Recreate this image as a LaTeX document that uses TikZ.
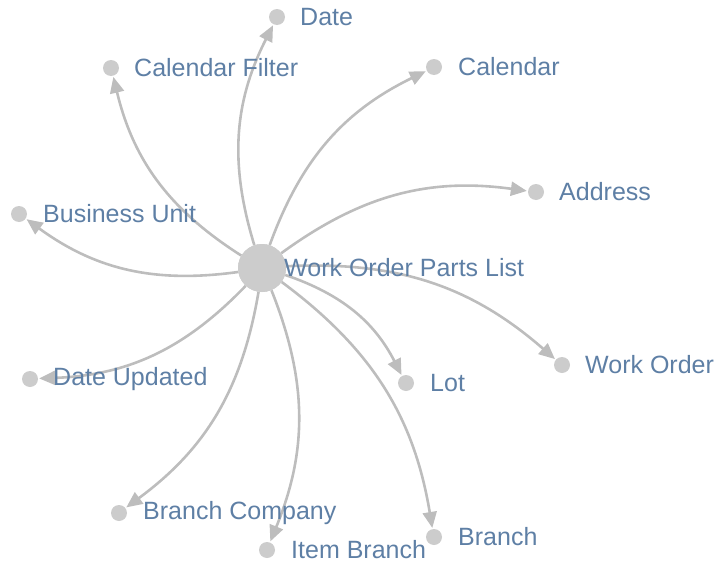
\documentclass[tikz,border=0pt]{standalone}
\usepackage{fontspec}
\setmainfont{Liberation Sans}
\usetikzlibrary{arrows.meta}
\definecolor{dotgray}{HTML}{CCCCCC}
\definecolor{edgegray}{HTML}{BDBDBD}
\definecolor{labelblue}{HTML}{5E7FA5}
\tikzset{
  dot/.style={circle,fill=dotgray,draw=none,minimum size=16pt,inner sep=0pt},
  hub/.style={circle,fill=dotgray,draw=none,minimum size=48pt,inner sep=0pt},
  lbl/.style={anchor=west,inner sep=0pt,text=labelblue,font=\fontsize{25}{28}\selectfont},
  edge/.style={draw=edgegray,line width=2.6pt,-{Triangle[length=16pt,width=14pt]},shorten >=1pt}
}
\begin{document}
\begin{tikzpicture}[x=1pt,y=-1pt]
\useasboundingbox (0,0) rectangle (724,565);
\node[hub] (c) at (262,268) {};
\node[dot] (date) at (277,17) {};
\node[dot] (calf) at (111,68) {};
\node[dot] (cal) at (434,67) {};
\node[dot] (addr) at (536,192) {};
\node[dot] (bu) at (19,214) {};
\node[dot] (wo) at (562,365) {};
\node[dot] (lot) at (406,383) {};
\node[dot] (du) at (30,379) {};
\node[dot] (bc) at (119,513) {};
\node[dot] (ib) at (267,550) {};
\node[dot] (br) at (434,537) {};
\draw[edge] (c) to[bend left=22] (date);
\draw[edge] (c) to[bend left=22] (calf);
\draw[edge] (c) to[bend left=22] (cal);
\draw[edge] (c) to[bend left=22] (addr);
\draw[edge] (c) to[bend left=22] (bu);
\draw[edge] (c) to[bend left=22] (wo);
\draw[edge] (c) to[bend left=22] (lot);
\draw[edge] (c) to[bend left=22] (du);
\draw[edge] (c) to[bend left=22] (bc);
\draw[edge] (c) to[bend left=22] (ib);
\draw[edge] (c) to[bend left=22] (br);
\node[hub] at (c) {};
\node[lbl] (lc) at (284,268) {Work Order Parts List};
\node[lbl] (ldate) at (300,17) {Date};
\node[lbl] (lcalf) at (134,68) {Calendar Filter};
\node[lbl] (lcal) at (458,67) {Calendar};
\node[lbl] (laddr) at (559,192) {Address};
\node[lbl] (lbu) at (43,214) {Business Unit};
\node[lbl] (lwo) at (585,365) {Work Order};
\node[lbl] (llot) at (430,383) {Lot};
\node[lbl] (ldu) at (53,379) {Date Updated};
\node[lbl] (lbc) at (143,513) {Branch Company};
\node[lbl] (lib) at (291,550) {Item Branch};
\node[lbl] (lbr) at (458,537) {Branch};
\end{tikzpicture}
\end{document}
